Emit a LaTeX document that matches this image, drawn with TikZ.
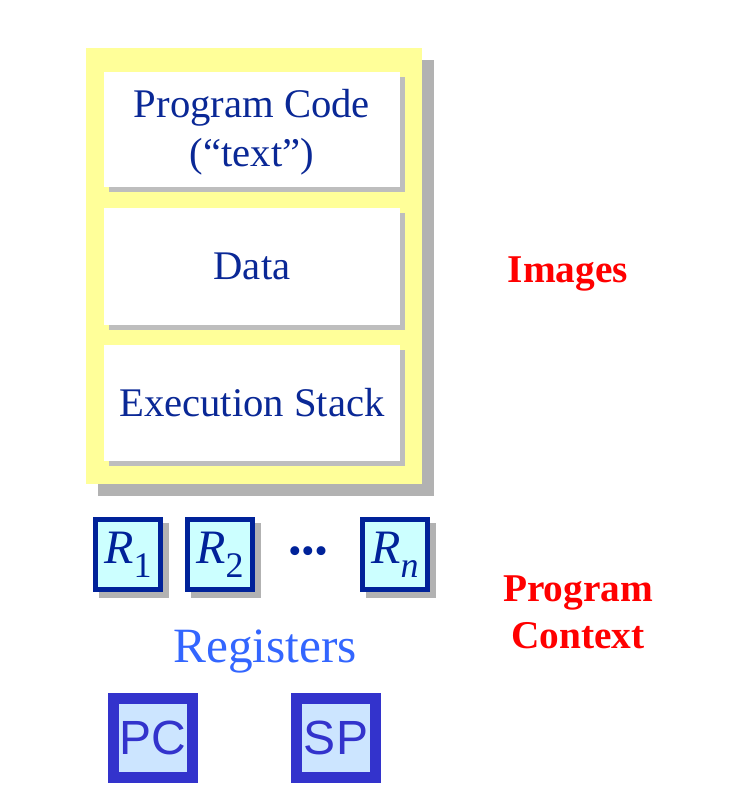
\documentclass[tikz,border=0pt]{standalone}
\usepackage{fontspec}
\setmainfont{Liberation Serif}
\newfontfamily\arialf{Liberation Sans}
\definecolor{boxtext}{HTML}{0A2896}
\definecolor{yel}{HTML}{FFFF99}
\definecolor{shad}{HTML}{B2B2B2}
\definecolor{regborder}{HTML}{002299}
\definecolor{regfill}{HTML}{CCFFFF}
\definecolor{regtext}{HTML}{3366FF}
\definecolor{pcblue}{HTML}{3333CC}
\definecolor{pcfill}{HTML}{CCE5FF}
\newcommand{\regname}[1]{\textit{R}\raisebox{-10.5pt}{\fontsize{27pt}{27pt}\selectfont #1}}
\tikzset{
  yellowbox/.style={fill=yel, draw=none, minimum width=336*0.75pt, minimum height=436*0.75pt, inner sep=0pt},
  memshadow/.style={fill=shad, draw=none, minimum width=336*0.75pt, minimum height=436*0.75pt, inner sep=0pt},
  membox/.style={fill=white, draw=none, minimum width=296*0.75pt, inner sep=0pt, text=boxtext, align=center,
    font=\fontsize{30.5pt}{37pt}\selectfont},
  memtext/.style={inner sep=0pt, text=boxtext, align=center, font=\fontsize{30.5pt}{37pt}\selectfont},
  boxshadow/.style={fill=shad!85!white, draw=none, minimum width=296*0.75pt, inner sep=0pt},
  regbox/.style={fill=regfill, draw=regborder, line width=3.75pt, minimum width=65*0.75pt, minimum height=70*0.75pt, inner sep=0pt,
    text=regborder, font=\fontsize{36pt}{36pt}\selectfont},
  regshadow/.style={fill=shad, draw=none, minimum width=70*0.75pt, minimum height=75*0.75pt, inner sep=0pt},
  pcbox/.style={fill=pcfill, draw=pcblue, line width=8.6pt, minimum width=78.5*0.75pt, minimum height=78.5*0.75pt, inner sep=0pt,
    text=pcblue, font=\arialf\fontsize{36pt}{36pt}\selectfont},
  redlabel/.style={text=red, font=\bfseries\fontsize{29.5pt}{35pt}\selectfont, align=center},
}
\begin{document}
\begin{tikzpicture}[x=0.75pt,y=-0.75pt]
\useasboundingbox (0,0) rectangle (748,808);
% memory image
\node[memshadow] (imgshadow) at (266,278) {};
\node[yellowbox] (img) at (254,266) {};
\node[boxshadow, minimum height=115*0.75pt] (codeshadow) at (257,134.5) {};
\node[boxshadow, minimum height=117*0.75pt] (datashadow) at (257,271.5) {};
\node[boxshadow, minimum height=116*0.75pt] (stackshadow) at (257,408) {};
\node[membox, minimum height=115*0.75pt] (code) at (252,129.5) {};
\node[memtext] (codetext) at (252,132.5) {Program Code\\(``text'')};
\node[membox, minimum height=117*0.75pt] (data) at (252,266.5) {Data};
\node[membox, minimum height=116*0.75pt] (stack) at (252,403) {Execution Stack};
% registers
\node[regshadow] (r1s) at (134,560.5) {};
\node[regshadow] (r2s) at (226,560.5) {};
\node[regshadow] (rns) at (401,560.5) {};
\node[regbox] (r1) at (128,554.5) {\regname{1}};
\node[regbox] (r2) at (220,554.5) {\regname{2}};
\node[regbox] (rn) at (395,554.5) {\regname{\textit{n}}};
\node[text=regborder, font=\fontsize{28pt}{28pt}\selectfont, inner sep=0pt] (dots) at (308,555) {\textbullet\textbullet\textbullet};
\node[text=regtext, font=\fontsize{37pt}{37pt}\selectfont, anchor=base, inner sep=0pt] (regs) at (265,662) {Registers};
% PC, SP
\node[pcbox] (pc) at (153,738) {PC};
\node[pcbox] (sp) at (336,738) {SP};
% labels
\node[redlabel, anchor=base] (images) at (568,282) {Images};
\node[redlabel] (ctx) at (578,612) {Program\\Context};
\end{tikzpicture}
\end{document}
